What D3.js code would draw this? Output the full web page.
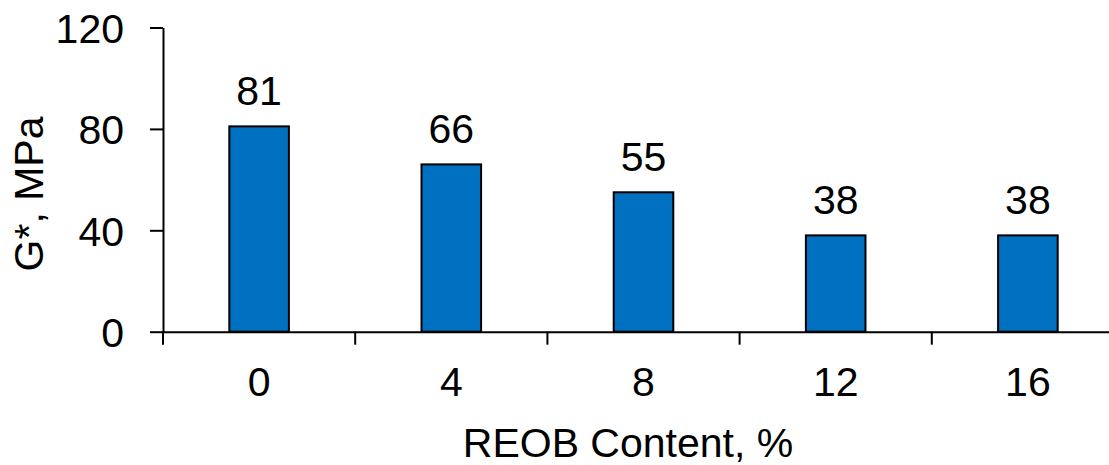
<!DOCTYPE html>
<html>
<head>
<meta charset="utf-8">
<script src="https://cdn.jsdelivr.net/npm/d3@7"></script>
<style>
  html, body { margin: 0; padding: 0; background: #fff; }
  svg { display: block; }
  text { font-family: "Liberation Sans", Arial, sans-serif; fill: #000; }
</style>
</head>
<body>
<svg id="chart" width="1109" height="465"></svg>
<script>
// REOB content (%) and the corresponding G* values (MPa)
const categories = ["0", "4", "8", "12", "16"];
const values = [81, 66, 55, 38, 38];
const yTicks = [0, 40, 80, 120];

const svg = d3.select("#chart");
const plotLeft = 163, plotRight = 1124, plotTop = 27.5, plotBottom = 331.7;
const fontSize = 41;

const x = d3.scaleBand().domain(categories).range([plotLeft, plotRight]).padding(0);
const y = d3.scaleLinear().domain([0, 120]).range([plotBottom, plotTop]);

const barW = x.bandwidth() * 0.31;

// Y axis
const yAxis = svg.append("g")
  .attr("transform", `translate(${plotLeft},0)`)
  .call(d3.axisLeft(y).tickValues(yTicks).tickSize(13).tickSizeOuter(0).tickPadding(26));
yAxis.select(".domain").attr("stroke", "#000").attr("stroke-width", 2);
yAxis.selectAll(".tick line").attr("stroke", "#000").attr("stroke-width", 2);
yAxis.selectAll(".tick text")
  .style("font-family", "'Liberation Sans', Arial, sans-serif")
  .attr("font-size", fontSize).attr("fill", "#000").attr("dy", "0.36em");

// X axis: labels centred in each band, tick marks on band boundaries
const xAxis = svg.append("g")
  .attr("transform", `translate(0,${plotBottom})`)
  .call(d3.axisBottom(x).tickSize(0).tickSizeOuter(0).tickPadding(35));
xAxis.select(".domain").attr("stroke", "#000").attr("stroke-width", 2);
xAxis.selectAll(".tick text")
  .style("font-family", "'Liberation Sans', Arial, sans-serif")
  .attr("font-size", fontSize).attr("fill", "#000");

const boundaries = categories.map(c => x(c)).concat([x.range()[1]]);
svg.append("g").selectAll("line")
  .data(boundaries)
  .join("line")
  .attr("x1", d => d).attr("x2", d => d)
  .attr("y1", plotBottom).attr("y2", plotBottom + 13)
  .attr("stroke", "#000").attr("stroke-width", 2);

// Bars
svg.append("g").selectAll("rect")
  .data(values)
  .join("rect")
  .attr("x", (d, i) => x(categories[i]) + (x.bandwidth() - barW) / 2)
  .attr("y", d => y(d))
  .attr("width", barW)
  .attr("height", d => plotBottom - y(d))
  .attr("fill", "#0070C0")
  .attr("stroke", "#000")
  .attr("stroke-width", 2);

// Value labels
svg.append("g").selectAll("text")
  .data(values)
  .join("text")
  .attr("x", (d, i) => x(categories[i]) + x.bandwidth() / 2)
  .attr("y", d => y(d) - 21)
  .attr("text-anchor", "middle")
  .attr("font-size", fontSize)
  .text(d => d);

// Axis titles
svg.append("text")
  .attr("x", 628).attr("y", 457)
  .attr("text-anchor", "middle")
  .attr("font-size", fontSize)
  .text("REOB Content, %");

svg.append("text")
  .attr("transform", "translate(43,194) rotate(-90)")
  .attr("text-anchor", "middle")
  .attr("font-size", fontSize)
  .text("G*, MPa");
</script>
</body>
</html>
